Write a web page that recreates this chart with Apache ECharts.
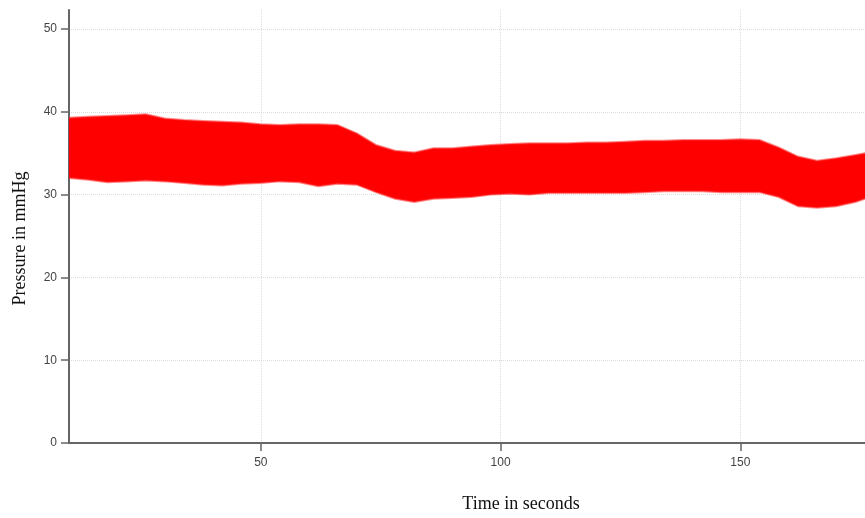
<!DOCTYPE html>
<html>
<head>
<meta charset="utf-8">
<script src="https://cdn.jsdelivr.net/npm/echarts@6/dist/echarts.min.js"></script>
<style>
  html, body { margin: 0; padding: 0; background: #fff; }
  #chart { width: 865px; height: 518px; }
</style>
</head>
<body>
<div id="chart"></div>
<script>
// time (s) and the pulse envelope (mmHg)
const time = [10, 14, 18, 22, 26, 30, 34, 38, 42, 46, 50, 54, 58, 62, 66, 70, 74, 78, 82, 86,
  90, 94, 98, 102, 106, 110, 114, 118, 122, 126, 130, 134, 138, 142, 146, 150, 154, 158, 162, 166,
  170, 174, 176]
const upper = [39.3, 39.4, 39.5, 39.6, 39.7, 39.2, 39.0, 38.9, 38.8, 38.7, 38.5, 38.4, 38.5, 38.5, 38.4, 37.4, 36.0, 35.3, 35.1, 35.6,
  35.6, 35.8, 36.0, 36.1, 36.2, 36.2, 36.2, 36.3, 36.3, 36.4, 36.5, 36.5, 36.6, 36.6, 36.6, 36.7, 36.6, 35.7, 34.6, 34.1,
  34.4, 34.8, 35.0]
const lower = [32.0, 31.8, 31.5, 31.6, 31.7, 31.6, 31.4, 31.2, 31.1, 31.3, 31.4, 31.6, 31.5, 31.0, 31.3, 31.2, 30.3, 29.5, 29.1, 29.5,
  29.6, 29.7, 30.0, 30.1, 30.0, 30.2, 30.2, 30.2, 30.2, 30.2, 30.3, 30.4, 30.4, 30.4, 30.3, 30.3, 30.3, 29.7, 28.6, 28.4,
  28.6, 29.1, 29.5]
const xTicks = [50, 100, 150]
const yTicks = [0, 10, 20, 30, 40, 50]

const chart = echarts.init(document.getElementById('chart'))

const axisColor = '#666'
const gridLine = { show: true, lineStyle: { color: '#dcdcdc', type: 'dotted', width: 1 } }
// fuzzy edge of the pulse trace
const edge = { color: 'rgba(255, 40, 40, 0.55)', width: 2 }

chart.setOption({
  animation: false,
  grid: { left: 69, right: 0, top: 10, bottom: 75 },
  xAxis: {
    type: 'value',
    min: 10,
    max: 176,
    name: 'Time in seconds',
    nameLocation: 'middle',
    nameGap: 52,
    nameTextStyle: { fontFamily: 'Liberation Serif', fontSize: 18, color: '#111', padding: [0, 0, 0, 108] },
    axisLine: { lineStyle: { color: axisColor, width: 2 } },
    axisTick: { show: true, length: 8, customValues: xTicks, lineStyle: { color: axisColor, width: 1.5 } },
    axisLabel: { customValues: xTicks, color: '#444', fontFamily: 'Liberation Sans', fontSize: 12, margin: 14 },
    splitLine: gridLine
  },
  yAxis: {
    type: 'value',
    min: 0,
    max: 52.3,
    interval: 10,
    name: 'Pressure in mmHg',
    nameLocation: 'middle',
    nameGap: 40,
    nameTextStyle: { fontFamily: 'Liberation Serif', fontSize: 18, color: '#111', padding: [0, 24, 0, 0] },
    axisLine: { show: true, lineStyle: { color: axisColor, width: 2 } },
    axisTick: { show: true, length: 8, customValues: yTicks, lineStyle: { color: axisColor, width: 1.5 } },
    axisLabel: { customValues: yTicks, color: '#444', fontFamily: 'Liberation Sans', fontSize: 12, margin: 12 },
    splitLine: gridLine
  },
  series: [
    {
      // pressure first so that it is the stacked dimension
      name: 'lower',
      type: 'line',
      stack: 'band',
      showSymbol: false,
      encode: { x: 1, y: 0 },
      lineStyle: edge,
      data: time.map((t, i) => [lower[i], t])
    },
    {
      name: 'band',
      type: 'line',
      stack: 'band',
      showSymbol: false,
      encode: { x: 1, y: 0 },
      lineStyle: edge,
      areaStyle: { color: '#ff0000', opacity: 1 },
      data: time.map((t, i) => [upper[i] - lower[i], t])
    }
  ]
})
</script>
</body>
</html>
